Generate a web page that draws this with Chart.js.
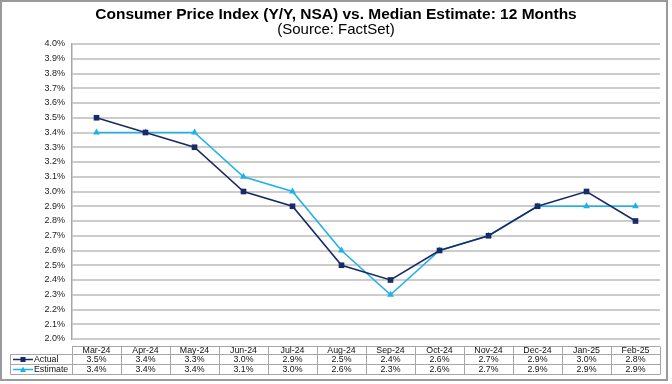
<!DOCTYPE html>
<html>
<head>
<meta charset="utf-8">
<script src="https://cdn.jsdelivr.net/npm/chart.js@4"></script>
<style>
html,body{margin:0;padding:0;background:#fff;}
#wrap{width:672px;height:384px;position:relative;}
</style>
</head>
<body>
<div id="wrap"><canvas id="c" width="672" height="384"></canvas></div>
<script>
const titleText = 'Consumer Price Index (Y/Y, NSA) vs. Median Estimate: 12 Months';
const subtitleText = '(Source: FactSet)';
const categories = ['Mar-24','Apr-24','May-24','Jun-24','Jul-24','Aug-24','Sep-24','Oct-24','Nov-24','Dec-24','Jan-25','Feb-25'];
const actual = [3.5,3.4,3.3,3.0,2.9,2.5,2.4,2.6,2.7,2.9,3.0,2.8];
const estimate = [3.4,3.4,3.4,3.1,3.0,2.6,2.3,2.6,2.7,2.9,2.9,2.9];
const seriesNames = ['Actual','Estimate'];
const yMin = 2.0, yMax = 4.0, yStep = 0.1;

const ACTUAL_COLOR = '#1a2a66';
const EST_COLOR = '#1fb2ea';
const FONT = '"Liberation Sans", Arial, sans-serif';

const framePlugin = {
  id: 'frameAndTitle',
  beforeDraw(chart) {
    const ctx = chart.ctx;
    ctx.save();
    ctx.fillStyle = '#fff';
    ctx.fillRect(0,0,chart.width,chart.height);
    ctx.strokeStyle = '#9a9a9a';
    ctx.lineWidth = 2;
    ctx.strokeRect(1,1,666,379);
    ctx.fillStyle = '#000';
    ctx.textAlign = 'center';
    ctx.textBaseline = 'middle';
    ctx.font = 'bold 15.5px ' + FONT;
    ctx.fillText(titleText, 336, 15);
    ctx.font = '15px ' + FONT;
    ctx.fillText(subtitleText, 336, 30);
    ctx.restore();
  },
  afterDraw(chart) {
    const ctx = chart.ctx;
    const xs = chart.scales.x;
    const area = chart.chartArea;
    const n = categories.length;
    const w = (area.right - area.left) / n;
    const rows = [346.5, 354.5, 364.5, 374.5];
    const legendLeft = 10.5;
    ctx.save();
    ctx.strokeStyle = '#a6a6a6';
    ctx.lineWidth = 1;
    ctx.beginPath();
    ctx.moveTo(area.left, rows[0]); ctx.lineTo(area.right, rows[0]);
    for (let r = 1; r < rows.length; r++) {
      ctx.moveTo(legendLeft, rows[r]); ctx.lineTo(area.right, rows[r]);
    }
    for (let i = 0; i <= n; i++) {
      const x = Math.round(area.left + i * w) + 0.5;
      ctx.moveTo(x, rows[0]); ctx.lineTo(x, rows[3]);
    }
    ctx.moveTo(legendLeft, rows[1]); ctx.lineTo(legendLeft, rows[3]);
    ctx.stroke();

    ctx.fillStyle = '#111';
    ctx.textBaseline = 'middle';
    ctx.textAlign = 'center';
    ctx.font = '8.8px ' + FONT;
    const sets = [actual, estimate];
    for (let i = 0; i < n; i++) {
      const cx = xs.getPixelForValue(i);
      ctx.fillText(categories[i], cx, (rows[0] + rows[1]) / 2 + 0.5);
      for (let s = 0; s < 2; s++) {
        ctx.fillText(sets[s][i].toFixed(1) + '%', cx, (rows[s+1] + rows[s+2]) / 2 + 0.5);
      }
    }
    const colors = [ACTUAL_COLOR, EST_COLOR];
    for (let s = 0; s < 2; s++) {
      const cy = (rows[s+1] + rows[s+2]) / 2;
      ctx.strokeStyle = colors[s];
      ctx.lineWidth = 1.5;
      ctx.beginPath();
      ctx.moveTo(13, cy); ctx.lineTo(33, cy);
      ctx.stroke();
      ctx.fillStyle = colors[s];
      if (s === 0) {
        ctx.fillRect(20.5, cy - 2.5, 5, 5);
      } else {
        ctx.beginPath();
        ctx.moveTo(23, cy - 3); ctx.lineTo(26, cy + 2.5); ctx.lineTo(20, cy + 2.5); ctx.closePath();
        ctx.fill();
      }
      ctx.fillStyle = '#111';
      ctx.textAlign = 'left';
      ctx.fillText(seriesNames[s], 34, cy + 0.5);
    }
    ctx.restore();
  }
};

new Chart(document.getElementById('c'), {
  type: 'line',
  data: {
    labels: categories,
    datasets: [
      {
        label: seriesNames[0],
        data: actual,
        borderColor: ACTUAL_COLOR,
        backgroundColor: ACTUAL_COLOR,
        borderWidth: 1.6,
        pointStyle: 'rect',
        pointRadius: 4,
        pointBorderWidth: 0,
        tension: 0
      },
      {
        label: seriesNames[1],
        data: estimate,
        borderColor: EST_COLOR,
        backgroundColor: EST_COLOR,
        borderWidth: 1.6,
        pointStyle: 'triangle',
        pointRadius: 4,
        pointBorderWidth: 0,
        tension: 0
      }
    ]
  },
  options: {
    responsive: false,
    animation: false,
    devicePixelRatio: 1,
    layout: { padding: { left: 0, right: 12, top: 44, bottom: 45 } },
    plugins: {
      legend: { display: false },
      title: { display: false },
      tooltip: { enabled: false }
    },
    scales: {
      x: {
        display: false,
        offset: true
      },
      y: {
        min: yMin,
        max: yMax,
        afterFit(scale) { scale.width = 72; },
        border: { display: true, color: '#a6a6a6', width: 1.5 },
        grid: { color: '#cccccc', lineWidth: 2, drawTicks: false },
        ticks: {
          stepSize: yStep,
          padding: 7,
          color: '#222',
          font: { family: FONT, size: 9 },
          callback: (v) => v.toFixed(1) + '%'
        }
      }
    }
  },
  plugins: [framePlugin]
});
</script>
</body>
</html>
